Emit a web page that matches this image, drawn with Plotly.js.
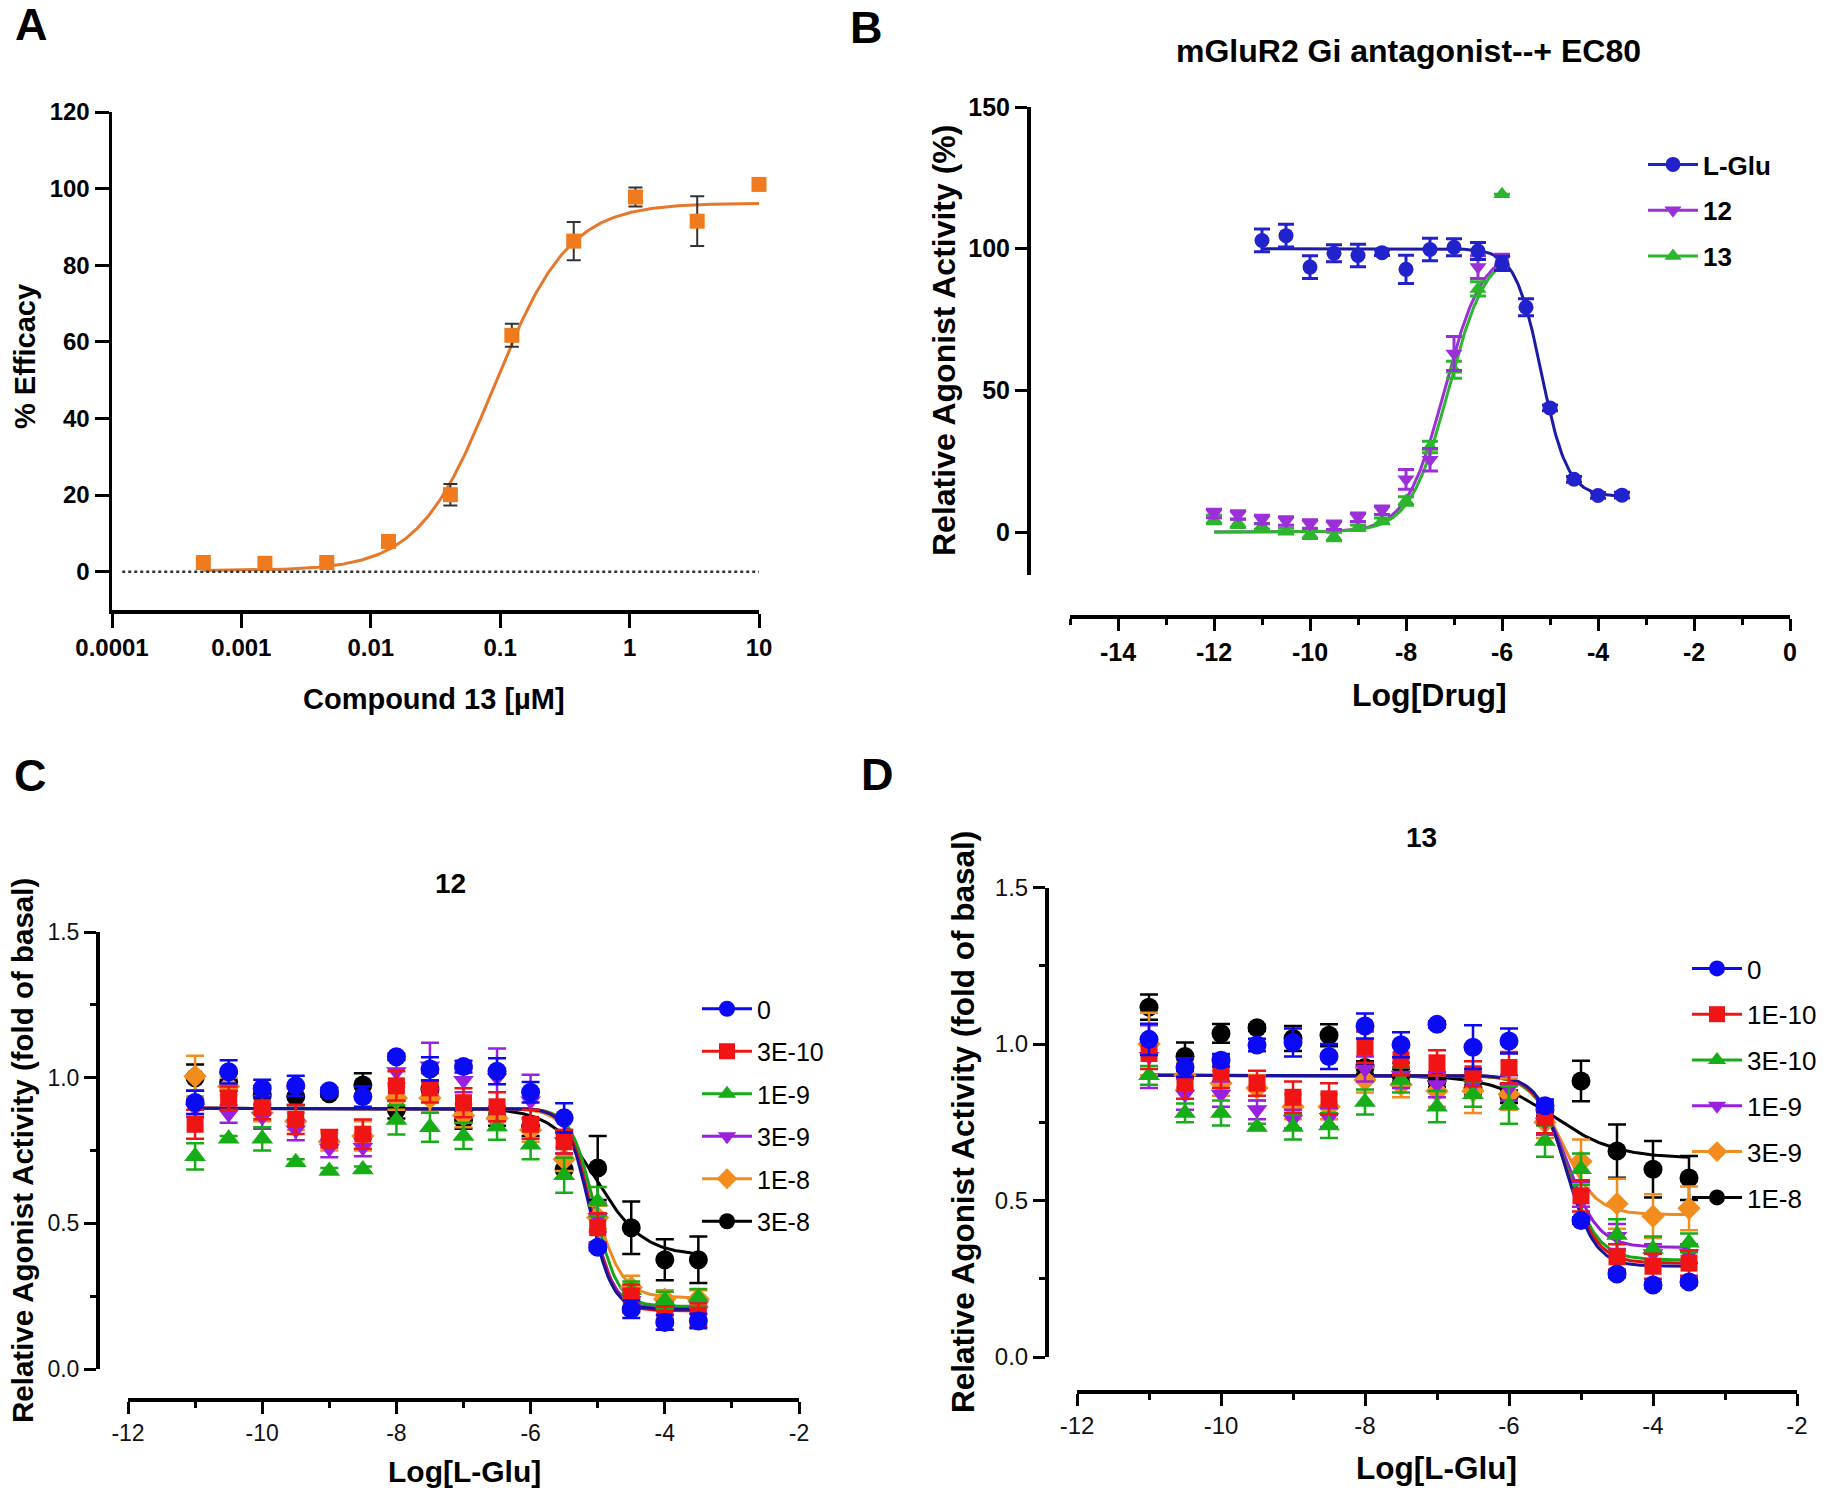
<!DOCTYPE html>
<html><head><meta charset="utf-8">
<script src="https://cdn.plot.ly/plotly-3.0.1.min.js"></script>
<style>html,body{margin:0;padding:0;background:#fff;} #chart{width:1831px;height:1495px;}</style>
</head><body><div id="chart"></div>
<script>
// ---------------- Panel A data ----------------
const A_conc = [0.000508, 0.00152, 0.00457, 0.0137, 0.0412, 0.123, 0.370, 1.11, 3.33, 10];
const A_eff  = [2.4, 2.2, 2.4, 7.9, 20.1, 61.7, 86.3, 97.8, 91.5, 101.1];
const A_err  = [0.8, 0.6, 0.6, 0.8, 2.8, 3.0, 5.0, 2.5, 6.5, 1.5];
const A_fit  = [0.3, 96.2, -1.05, 1.5];          // bottom, top, logEC50, hill
const A_xticks = [0.0001, 0.001, 0.01, 0.1, 1, 10];
const A_xticktext = ['0.0001', '0.001', '0.01', '0.1', '1', '10'];
const A_yticks = [0, 20, 40, 60, 80, 100, 120];

// ---------------- Panel B data ----------------
const B_logGlu = [-11, -10.5, -10, -9.5, -9, -8.5, -8, -7.5, -7, -6.5, -6, -5.5, -5, -4.5, -4, -3.5];
const B_LGlu    = [102.9, 104.6, 93.5, 98.4, 97.6, 98.6, 92.7, 99.7, 100.5, 99.2, 94.8, 79.3, 43.8, 18.6, 12.9, 13.0];
const B_LGluErr = [4, 4, 4, 3, 4, 1, 5, 4, 3, 3, 2.5, 3, 1, 1, 1, 1];
const B_logDrug = [-12, -11.5, -11, -10.5, -10, -9.5, -9, -8.5, -8, -7.5, -7, -6.5, -6];
const B_c12     = [6.5, 6.0, 4.4, 3.9, 2.8, 2.4, 5.2, 7.7, 18.6, 25.5, 63.0, 93.5, 96.0];
const B_c12Err  = [1.5, 1.5, 1.5, 1.5, 1.5, 1.5, 1.5, 1.5, 3.5, 4, 6, 4, 2];
const B_c13     = [4.4, 3.1, 2.0, 0.3, -0.8, -1.6, 1.5, 3.9, 10.9, 30.0, 57.3, 85.8, 119.2];
const B_c13Err  = [1.5, 1.5, 1, 1, 1.5, 1.5, 1, 1, 1.5, 2, 3, 2.5, 0];
const B_fitLGlu = [12.5, 100, -5.18, -1.6];
const B_fit12   = [0, 100, -7.2, 1.1];
const B_fit13   = [0, 100, -7.12, 1.1];
const B_names   = ['L-Glu', '12', '13'];
const B_xtickvals = [-14, -12, -10, -8, -6, -4, -2, 0];
const B_xticktext = ['-14', '-12', '-10', '-8', '-6', '-4', '-2', '0'];
const B_yticks = [0, 50, 100, 150];

// ---------------- Panel C data (compound 12) ----------------
const C_x = [-11, -10.5, -10, -9.5, -9, -8.5, -8, -7.5, -7, -6.5, -6, -5.5, -5, -4.5, -4, -3.5];
const C_names = ['0', '3E-10', '1E-9', '3E-9', '1E-8', '3E-8'];
const C_0     = [0.915, 1.02, 0.963, 0.972, 0.955, 0.935, 1.072, 1.03, 1.038, 1.022, 0.95, 0.862, 0.418, 0.205, 0.16, 0.165];
const C_0e    = [0.04, 0.04, 0.03, 0.035, 0.01, 0.035, 0.01, 0.04, 0.02, 0.045, 0.035, 0.05, 0.01, 0.03, 0.025, 0.025];
const C_3E10  = [0.84, 0.93, 0.897, 0.857, 0.79, 0.806, 0.972, 0.965, 0.914, 0.9, 0.84, 0.78, 0.485, 0.25, 0.175, 0.185];
const C_3E10e = [0.05, 0.04, 0.04, 0.05, 0.03, 0.05, 0.05, 0.05, 0.05, 0.05, 0.05, 0.04, 0.05, 0.04, 0.04, 0.04];
const C_1E9   = [0.73, 0.79, 0.79, 0.71, 0.68, 0.685, 0.855, 0.83, 0.80, 0.832, 0.77, 0.665, 0.575, 0.27, 0.235, 0.245];
const C_1E9e  = [0.045, 0.01, 0.04, 0.01, 0.01, 0.01, 0.05, 0.05, 0.045, 0.045, 0.05, 0.06, 0.05, 0.03, 0.03, 0.03];
const C_3E9   = [0.895, 0.875, 0.865, 0.82, 0.757, 0.76, 1.02, 1.04, 0.99, 1.0, 0.92, 0.78, 0.52, 0.235, 0.2, 0.2];
const C_3E9e  = [0.03, 0.03, 0.04, 0.035, 0.03, 0.03, 0.04, 0.08, 0.04, 0.1, 0.09, 0.04, 0.05, 0.04, 0.03, 0.03];
const C_1E8   = [1.005, 0.97, 0.88, 0.85, 0.78, 0.80, 0.93, 0.93, 0.87, 0.86, 0.82, 0.72, 0.52, 0.28, 0.24, 0.24];
const C_1E8e  = [0.07, 0.03, 0.03, 0.03, 0.03, 0.05, 0.04, 0.05, 0.04, 0.04, 0.04, 0.04, 0.04, 0.04, 0.03, 0.03];
const C_3E8   = [1.0, 0.985, 0.94, 0.935, 0.945, 0.975, 0.89, 0.96, 0.855, 0.865, 0.83, 0.685, 0.69, 0.485, 0.375, 0.375];
const C_3E8e  = [0.045, 0.03, 0.03, 0.03, 0.01, 0.04, 0.03, 0.03, 0.03, 0.03, 0.03, 0.03, 0.11, 0.09, 0.07, 0.08];
const C_fits = [[0.205, 0.895, -5.12, -2.6], [0.20, 0.895, -5.1, -2.6], [0.215, 0.895, -5.05, -2.5],
                [0.21, 0.895, -5.1, -2.6], [0.245, 0.895, -5.05, -2.1], [0.39, 0.895, -5.0, -1.27]];

// ---------------- Panel D data (compound 13) ----------------
const D_x = [-11, -10.5, -10, -9.5, -9, -8.5, -8, -7.5, -7, -6.5, -6, -5.5, -5, -4.5, -4, -3.5];
const D_names = ['0', '1E-10', '3E-10', '1E-9', '3E-9', '1E-8'];
const D_0     = [1.015, 0.925, 0.948, 0.997, 1.005, 0.96, 1.058, 0.998, 1.063, 0.99, 1.01, 0.803, 0.436, 0.265, 0.23, 0.24];
const D_0e    = [0.05, 0.03, 0.02, 0.02, 0.045, 0.04, 0.04, 0.04, 0.01, 0.07, 0.04, 0.02, 0.01, 0.01, 0.01, 0.01];
const D_1E10  = [0.97, 0.875, 0.91, 0.875, 0.83, 0.825, 0.99, 0.95, 0.94, 0.905, 0.925, 0.765, 0.515, 0.32, 0.29, 0.3];
const D_1E10e = [0.05, 0.05, 0.05, 0.04, 0.05, 0.05, 0.05, 0.05, 0.04, 0.04, 0.05, 0.05, 0.05, 0.04, 0.04, 0.04];
const D_3E10  = [0.9, 0.78, 0.78, 0.735, 0.735, 0.74, 0.815, 0.885, 0.8, 0.84, 0.805, 0.69, 0.6, 0.39, 0.345, 0.365];
const D_3E10e = [0.03, 0.03, 0.04, 0.01, 0.04, 0.04, 0.04, 0.04, 0.05, 0.04, 0.06, 0.05, 0.05, 0.05, 0.04, 0.03];
const D_1E9   = [0.96, 0.84, 0.84, 0.79, 0.76, 0.765, 0.92, 0.9, 0.87, 0.87, 0.86, 0.75, 0.52, 0.385, 0.33, 0.33];
const D_1E9e  = [0.1, 0.05, 0.04, 0.03, 0.03, 0.03, 0.04, 0.04, 0.04, 0.04, 0.04, 0.04, 0.04, 0.04, 0.03, 0.03];
const D_3E9   = [1.0, 0.9, 0.875, 0.86, 0.8, 0.8, 0.885, 0.87, 0.85, 0.85, 0.84, 0.75, 0.625, 0.49, 0.45, 0.475];
const D_3E9e  = [0.1, 0.04, 0.04, 0.04, 0.04, 0.04, 0.04, 0.04, 0.05, 0.07, 0.05, 0.05, 0.07, 0.08, 0.07, 0.07];
const D_1E8   = [1.118, 0.96, 1.034, 1.052, 1.018, 1.028, 0.925, 0.9, 0.882, 0.86, 0.832, 0.79, 0.882, 0.658, 0.6, 0.572];
const D_1E8e  = [0.04, 0.045, 0.03, 0.01, 0.04, 0.035, 0.02, 0.02, 0.02, 0.02, 0.02, 0.02, 0.065, 0.085, 0.09, 0.07];
const D_fits = [[0.29, 0.90, -5.2, -2.2], [0.30, 0.90, -5.2, -2.1], [0.31, 0.90, -5.2, -2.0],
                [0.35, 0.90, -5.2, -2.0], [0.455, 0.90, -5.25, -1.9], [0.635, 0.90, -5.38, -1.0]];

const CD_xtickvals = [-12, -10, -8, -6, -4, -2];
const CD_xticktext = ['-12', '-10', '-8', '-6', '-4', '-2'];
const CD_yticks = [0, 0.5, 1.0, 1.5];
const CD_yticktext = ['0.0', '0.5', '1.0', '1.5'];

// ---------------- styling ----------------
const SER_COLORS  = ['#0a0af5', '#f01414', '#17ad17', '#9b1fe0', '#f28c1c', '#000000'];
const CURVE_COLORS = ['#14149e', '#e01010', '#17a617', '#9420d6', '#ee8a22', '#000000'];
const SER_SYMBOLS = ['circle', 'square', 'triangle-up', 'triangle-down', 'diamond', 'circle'];
const SER_SIZES   = [19, 17, 19, 18, 18, 19];
const FONT = 'Liberation Sans, Arial, Helvetica, sans-serif';
const W = 1831, H = 1495;
const px = v => v / W, py = v => 1 - v / H;

function fourPL(p, x) { return p[0] + (p[1] - p[0]) / (1 + Math.pow(10, (p[2] - x) * p[3])); }
function fitLine(p, x0, x1) {
  const xs = [], ys = [];
  for (let i = 0; i <= 300; i++) { const x = x0 + (x1 - x0) * i / 300; xs.push(x); ys.push(fourPL(p, x)); }
  return [xs, ys];
}

const traces = [];

// Panel A
(function () {
  const l0 = Math.log10(A_conc[0]), l1 = Math.log10(A_conc[A_conc.length - 1]);
  const [lx, ly] = fitLine(A_fit, l0, l1);
  traces.push({type: 'scatter', mode: 'lines', x: lx.map(v => Math.pow(10, v)), y: ly, xaxis: 'x', yaxis: 'y',
    line: {color: '#e5782c', width: 3}, showlegend: false, hoverinfo: 'skip'});
  traces.push({type: 'scatter', mode: 'markers', x: A_conc, y: A_eff, xaxis: 'x', yaxis: 'y',
    marker: {symbol: 'square', size: 15, color: '#f07a1e'},
    error_y: {type: 'data', array: A_err, visible: true, color: '#333333', thickness: 2, width: 7},
    showlegend: false, cliponaxis: false});
})();

// Panel B
(function () {
  const cols = ['#2222cc', '#9b30d8', '#2db52d'];
  const ccols = ['#1b1ba6', '#9b30d8', '#2db52d'];
  const syms = ['circle', 'triangle-down', 'triangle-up'];
  const fits = [B_fitLGlu, B_fit12, B_fit13];
  const xsets = [B_logGlu, B_logDrug, B_logDrug];
  const ysets = [B_LGlu, B_c12, B_c13];
  const esets = [B_LGluErr, B_c12Err, B_c13Err];
  [1, 2, 0].forEach(i => {
    const xs = xsets[i];
    const [cx, cy] = fitLine(fits[i], xs[0], xs[xs.length - 1]);
    traces.push({type: 'scatter', mode: 'lines', x: cx, y: cy, xaxis: 'x2', yaxis: 'y2',
      line: {color: ccols[i], width: 3}, showlegend: false, hoverinfo: 'skip'});
  });
  [2, 1, 0].forEach(i => {
    traces.push({type: 'scatter', mode: 'markers', x: xsets[i], y: ysets[i], xaxis: 'x2', yaxis: 'y2',
      marker: {symbol: syms[i], size: 15, color: cols[i]},
      error_y: {type: 'data', array: esets[i], visible: true, color: cols[i], thickness: 3, width: 8},
      showlegend: false, cliponaxis: false});
  });
  [0, 1, 2].forEach(i => {
    traces.push({type: 'scatter', mode: 'lines+markers', x: [null], y: [null], xaxis: 'x2', yaxis: 'y2',
      name: B_names[i], legend: 'legend', legendgroup: 'B' + i,
      line: {color: cols[i], width: 3}, marker: {symbol: syms[i], size: 15, color: cols[i]}});
  });
})();

// Panels C and D
function addDosePanel(xa, ya, xv, sets, errs, fits, names, leg) {
  const order = [5, 4, 3, 2, 1, 0];
  order.forEach(i => {
    const [cx, cy] = fitLine(fits[i], xv[0], xv[xv.length - 1]);
    traces.push({type: 'scatter', mode: 'lines', x: cx, y: cy, xaxis: xa, yaxis: ya,
      line: {color: CURVE_COLORS[i], width: 3}, showlegend: false, hoverinfo: 'skip'});
  });
  order.forEach(i => {
    traces.push({type: 'scatter', mode: 'markers', x: xv, y: sets[i], xaxis: xa, yaxis: ya,
      marker: {symbol: SER_SYMBOLS[i], size: SER_SIZES[i], color: SER_COLORS[i]},
      error_y: {type: 'data', array: errs[i], visible: true, color: SER_COLORS[i], thickness: 2.5, width: 9},
      showlegend: false, cliponaxis: false});
  });
  [0, 1, 2, 3, 4, 5].forEach(i => {
    traces.push({type: 'scatter', mode: 'lines+markers', x: [null], y: [null], xaxis: xa, yaxis: ya,
      name: names[i], legend: leg, legendgroup: leg + i,
      line: {color: SER_COLORS[i], width: 3}, marker: {symbol: SER_SYMBOLS[i], size: SER_SIZES[i], color: SER_COLORS[i]}});
  });
}
addDosePanel('x3', 'y3', C_x, [C_0, C_3E10, C_1E9, C_3E9, C_1E8, C_3E8],
  [C_0e, C_3E10e, C_1E9e, C_3E9e, C_1E8e, C_3E8e], C_fits, C_names, 'legend2');
addDosePanel('x4', 'y4', D_x, [D_0, D_1E10, D_3E10, D_1E9, D_3E9, D_1E8],
  [D_0e, D_1E10e, D_3E10e, D_1E9e, D_3E9e, D_1E8e], D_fits, D_names, 'legend3');

// ---------------- axes ----------------
const axBase = {ticks: 'outside', ticklen: 12, tickwidth: 3, tickcolor: '#000', showline: true, linewidth: 3.5,
  linecolor: '#000', showgrid: false, zeroline: false, fixedrange: true, tickmode: 'array'};
const boldTickA = {family: FONT, size: 24, weight: 'bold', color: '#000'};
const boldTickB = {family: FONT, size: 25, weight: 'bold', color: '#000'};
const minorX = {tickmode: 'linear', tick0: 1, dtick: 2, ticks: 'outside', ticklen: 6, tickwidth: 3, tickcolor: '#000', showgrid: false};
const minorY = {tickmode: 'linear', tick0: 0.25, dtick: 0.5, ticks: 'outside', ticklen: 6, tickwidth: 3, tickcolor: '#000', showgrid: false};

function ann(text, x, y, size, opts) {
  return Object.assign({text: text, x: px(x), y: py(y), xref: 'paper', yref: 'paper', showarrow: false,
    xanchor: 'center', yanchor: 'middle', font: {family: FONT, size: size, weight: 'bold', color: '#000'}}, opts || {});
}

const legBase = {xanchor: 'left', yanchor: 'top', bgcolor: 'rgba(0,0,0,0)', traceorder: 'grouped', itemwidth: 50,
  itemclick: false, itemdoubleclick: false};

const layout = {
  width: W, height: H, margin: {l: 0, r: 0, t: 0, b: 0}, paper_bgcolor: '#fff', plot_bgcolor: 'rgba(0,0,0,0)',
  font: {family: FONT, color: '#000'}, showlegend: true, hovermode: false,
  xaxis: Object.assign({}, axBase, {type: 'log', range: [-4, 1], domain: [px(112), px(759)], anchor: 'y', ticklen: 14,
    tickvals: A_xticks, ticktext: A_xticktext, tickfont: boldTickA}),
  yaxis: Object.assign({}, axBase, {range: [-10, 120], domain: [py(610), py(112)], anchor: 'x', ticklen: 14,
    tickvals: A_yticks, tickfont: boldTickA}),
  xaxis2: Object.assign({}, axBase, {range: [-15, 0], domain: [px(1070), px(1790)], anchor: 'free', position: py(616),
    tickvals: B_xtickvals, ticktext: B_xticktext, minor: minorX, tickfont: boldTickB}),
  yaxis2: Object.assign({}, axBase, {range: [-15, 150], domain: [py(574.5), py(107)], anchor: 'free', position: px(1028),
    tickvals: B_yticks, tickfont: boldTickB}),
  xaxis3: Object.assign({}, axBase, {range: [-12, -2], domain: [px(128), px(799)], anchor: 'free', position: py(1399),
    tickvals: CD_xtickvals, ticktext: CD_xticktext, minor: minorX, tickfont: {family: FONT, size: 23, color: '#111'}}),
  yaxis3: Object.assign({}, axBase, {range: [0, 1.5], domain: [py(1369), py(932)], anchor: 'free', position: px(97),
    tickvals: CD_yticks, ticktext: CD_yticktext, minor: minorY, tickfont: {family: FONT, size: 23, color: '#111'}}),
  xaxis4: Object.assign({}, axBase, {range: [-12, -2], domain: [px(1077), px(1797)], anchor: 'free', position: py(1391),
    tickvals: CD_xtickvals, ticktext: CD_xticktext, minor: minorX, tickfont: {family: FONT, size: 24, color: '#111'}}),
  yaxis4: Object.assign({}, axBase, {range: [0, 1.5], domain: [py(1357), py(887.6)], anchor: 'free', position: px(1046),
    tickvals: CD_yticks, ticktext: CD_yticktext, minor: minorY, tickfont: {family: FONT, size: 24, color: '#111'}}),
  legend: Object.assign({}, legBase, {x: px(1643), y: py(141), tracegroupgap: 9,
    font: {family: FONT, size: 26, weight: 'bold', color: '#000'}}),
  legend2: Object.assign({}, legBase, {x: px(697), y: py(986), tracegroupgap: 7,
    font: {family: FONT, size: 25, color: '#000'}}),
  legend3: Object.assign({}, legBase, {x: px(1687), y: py(945), tracegroupgap: 9,
    font: {family: FONT, size: 26, color: '#000'}}),
  shapes: [
    {type: 'line', xref: 'x', yref: 'y', x0: 0.00012, x1: 10, y0: 0, y1: 0,
      line: {color: '#333', width: 2.5, dash: 'dot'}}
  ],
  annotations: [
    ann('A', 31, 25, 45), ann('B', 866, 27, 45), ann('C', 30, 775, 45), ann('D', 877, 774, 45),
    ann('Compound 13 [µM]', 434, 699, 29),
    ann('% Efficacy', 25, 357, 29, {textangle: -90}),
    ann('mGluR2 Gi antagonist--+ EC80', 1408, 51, 32),
    ann('Log[Drug]', 1429, 695, 32),
    ann('Relative Agonist Activity (%)', 944, 341, 32, {textangle: -90}),
    ann('12', 450, 883, 28),
    ann('Log[L-Glu]', 464, 1471, 30),
    ann('Relative Agonist Activity (fold of basal)', 22, 1151, 29.5, {textangle: -90}),
    ann('13', 1421, 837, 28),
    ann('Log[L-Glu]', 1436, 1468, 31.5),
    ann('Relative Agonist Activity (fold of basal)', 963, 1122, 31.5, {textangle: -90})
  ]
};

Plotly.newPlot('chart', traces, layout, {staticPlot: true, displayModeBar: false});
</script></body></html>
